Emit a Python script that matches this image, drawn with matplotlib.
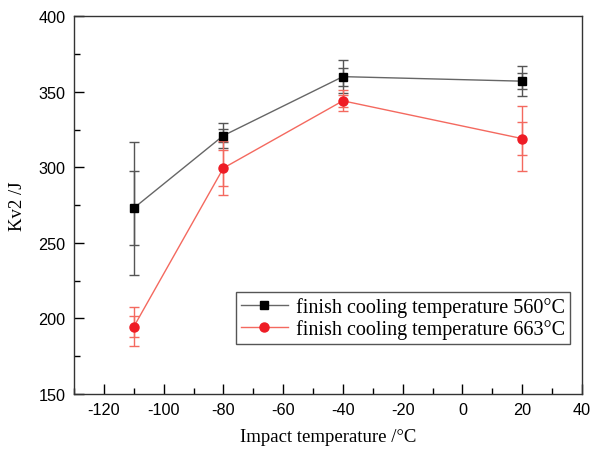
import matplotlib
matplotlib.use("Agg")
import matplotlib.pyplot as plt
from matplotlib.ticker import MultipleLocator

plt.rcParams["axes.unicode_minus"] = False

temps = [-110, -80, -40, 20]
kv_560 = [273, 321, 360, 357]
err_560_outer = [44, 8, 11, 10]
err_560_inner = [24.5, 4.5, 6, 5.5]
kv_663 = [194.5, 299.5, 344, 319]
err_663_outer = [13, 18, 7, 21.5]
err_663_inner = [7, 12, 4, 11]
labels = ["finish cooling temperature 560\u00b0C", "finish cooling temperature 663\u00b0C"]

fig = plt.figure(figsize=(5.92, 4.52), dpi=100)
ax = fig.add_axes([0.125, 0.126, 0.858, 0.836])

serif = ["Liberation Serif", "DejaVu Serif"]
sans = ["Liberation Sans", "DejaVu Sans"]

# black series
for e in (err_560_outer, err_560_inner):
    ax.errorbar(temps, kv_560, yerr=e, fmt="none", ecolor="#555555", elinewidth=1.0,
                capsize=3.5, capthick=1.0, zorder=2)
ax.plot(temps, kv_560, color="#666666", lw=1.0, marker="s", ms=6, mfc="black",
        mec="black", label=labels[0], zorder=3)

# red series
for e in (err_663_outer, err_663_inner):
    ax.errorbar(temps, kv_663, yerr=e, fmt="none", ecolor="#f4695f", elinewidth=1.0,
                capsize=3.5, capthick=1.0, zorder=2)
ax.plot(temps, kv_663, color="#f4695f", lw=1.0, marker="o", ms=6.5, mfc="#ee1c25",
        mec="#ee1c25", label=labels[1], zorder=3)

ax.set_xlim(-130, 40)
ax.set_ylim(150, 400)
ax.xaxis.set_major_locator(MultipleLocator(20))
ax.xaxis.set_minor_locator(MultipleLocator(10))
ax.yaxis.set_major_locator(MultipleLocator(50))
ax.yaxis.set_minor_locator(MultipleLocator(25))
ax.tick_params(which="major", direction="in", length=7, width=1.0, labelsize=11.7,
               top=False, right=False, pad=6)
ax.tick_params(which="minor", direction="in", length=4, width=1.0, top=False, right=False)
for lab in ax.get_xticklabels() + ax.get_yticklabels():
    lab.set_family(sans)
for s in ax.spines.values():
    s.set_linewidth(1.0)
    s.set_color("#333333")

ax.set_xlabel("Impact temperature /\u00b0C", family=serif, fontsize=13.5, labelpad=8)
ax.set_ylabel("Kv2 /J", family=serif, fontsize=13.5, labelpad=9)

leg = ax.legend(loc="lower right", bbox_to_anchor=(0.976, 0.132), prop={"family": serif, "size": 14.5},
                frameon=True, fancybox=False, edgecolor="#555555", framealpha=1,
                handlelength=2.3, borderpad=0.25, labelspacing=0.1, handletextpad=0.4,
                borderaxespad=0)
leg.get_frame().set_linewidth(1.0)

fig.savefig("out.png", dpi=100)
